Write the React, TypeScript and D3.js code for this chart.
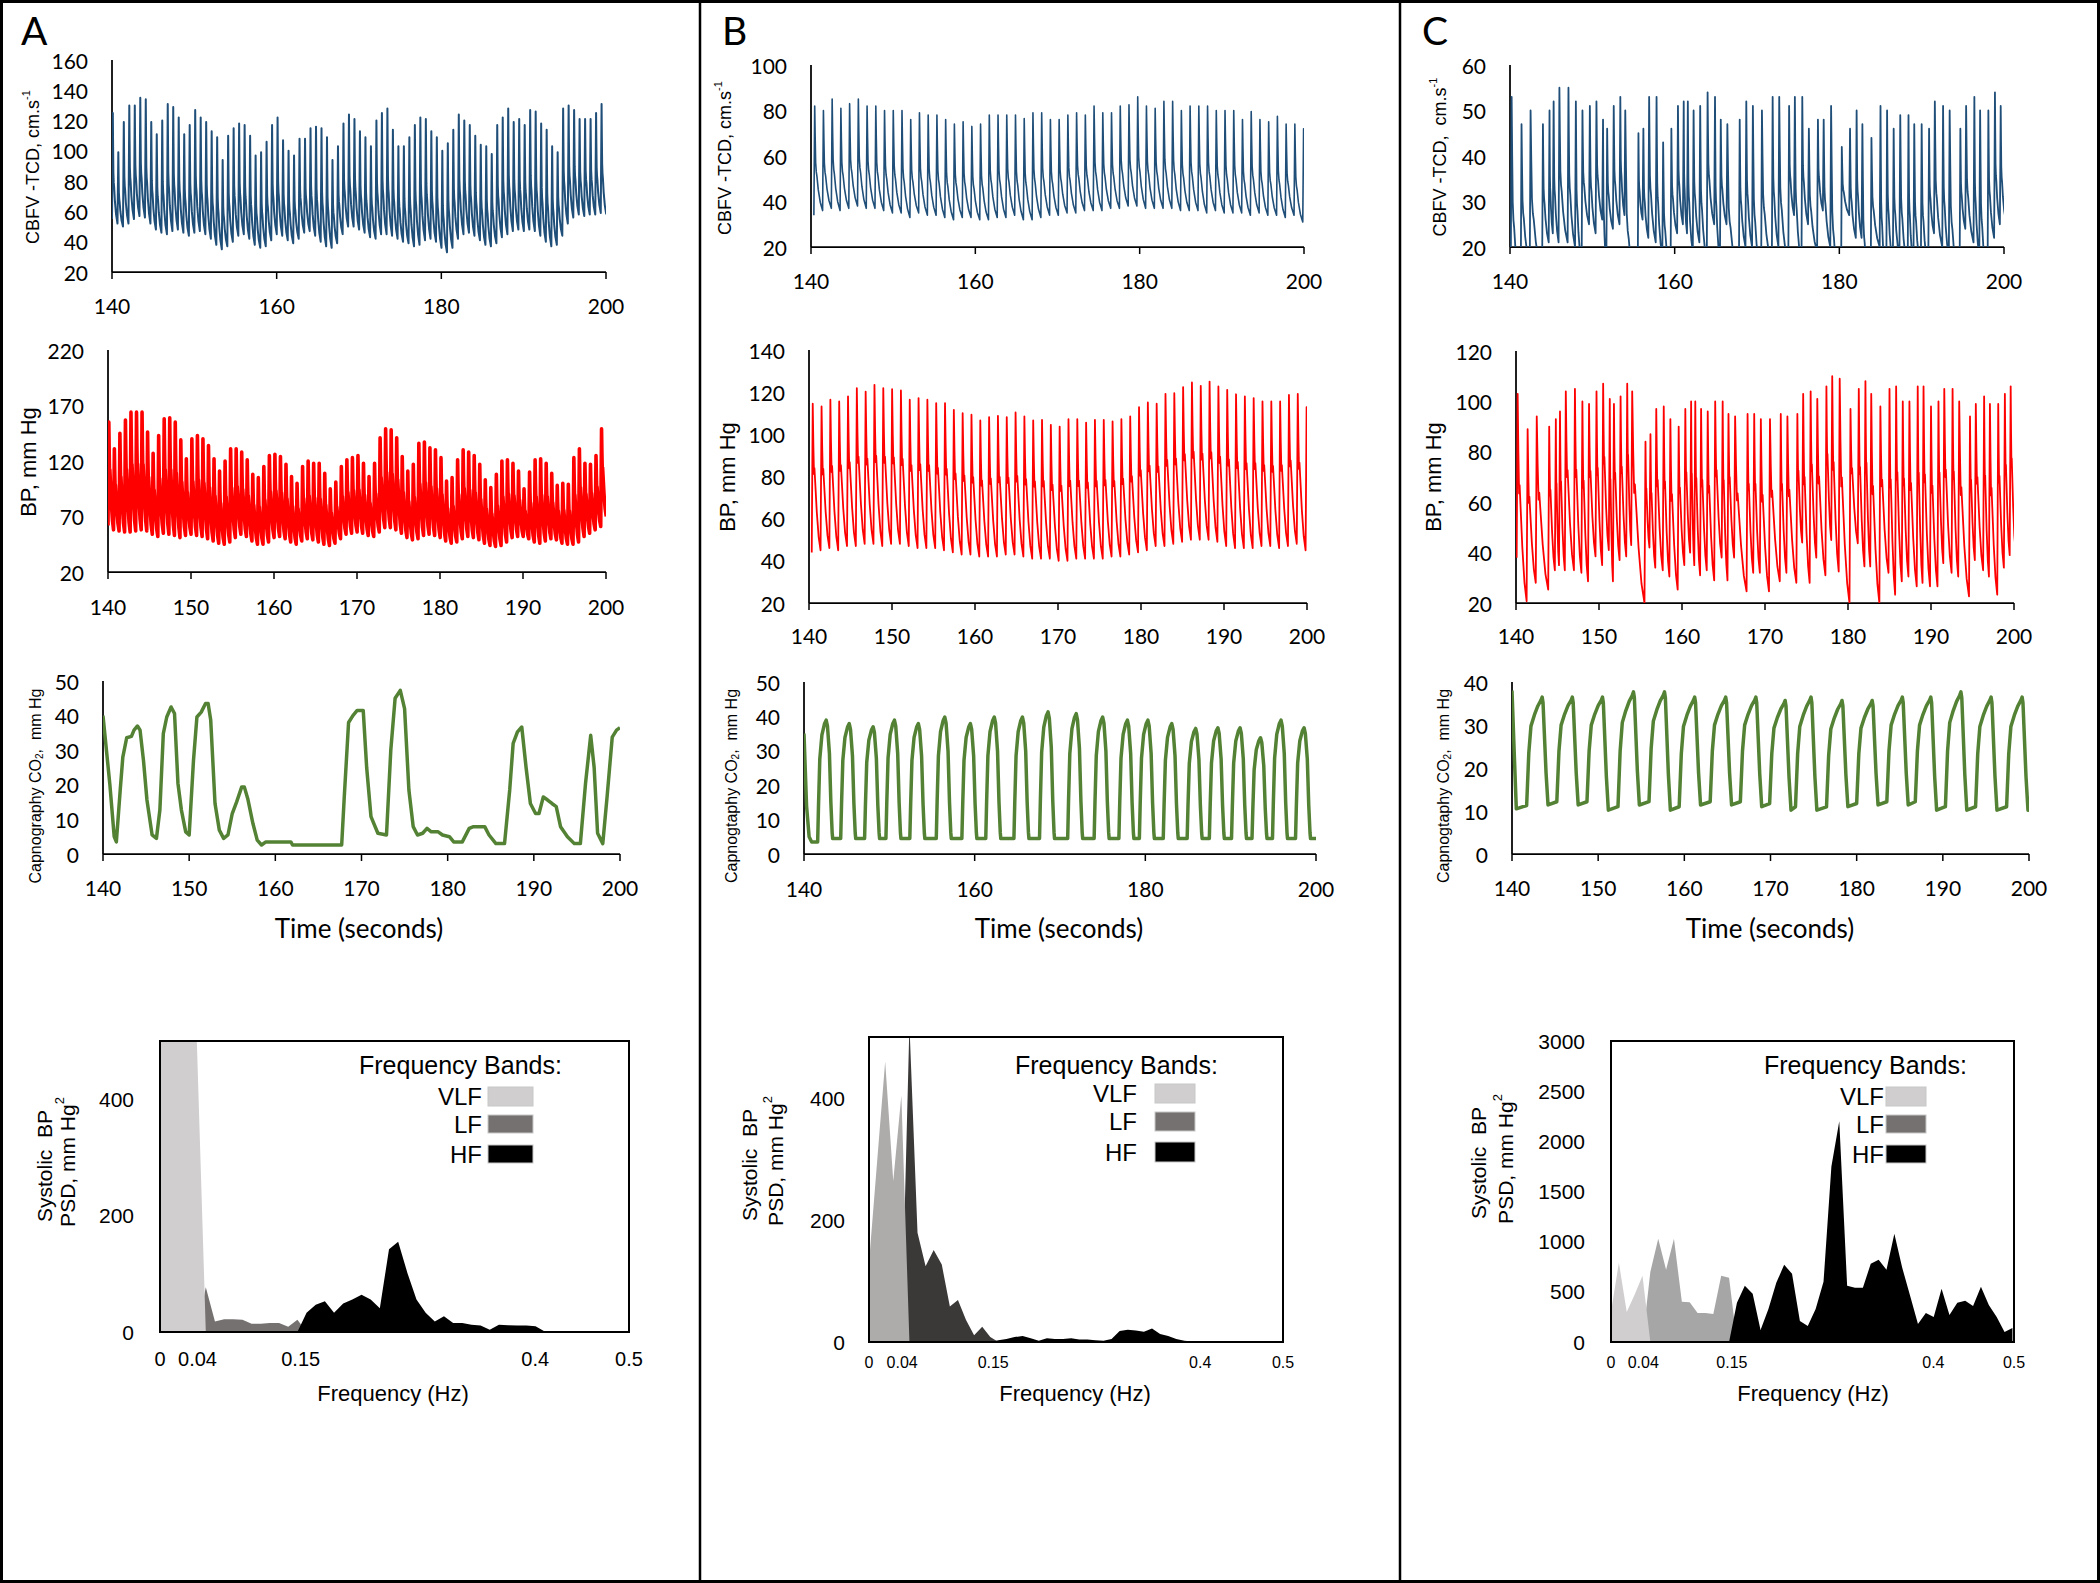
import React from 'react';
import * as d3 from 'd3';

type Pt = [number, number];

// ---------------- tick values ----------------
const timeTicksCoarse = [140, 160, 180, 200];
const timeTicksFine = [140, 150, 160, 170, 180, 190, 200];
const cbfvTicksA = [20, 40, 60, 80, 100, 120, 140, 160];
const bpTicksA = [20, 70, 120, 170, 220];
const co2TicksAB = [0, 10, 20, 30, 40, 50];
const cbfvTicksB = [20, 40, 60, 80, 100];
const bpTicksB = [20, 40, 60, 80, 100, 120, 140];
const cbfvTicksC = [20, 30, 40, 50, 60];
const bpTicksC = [20, 40, 60, 80, 100, 120];
const co2TicksC = [0, 10, 20, 30, 40];
const psdTicksAB = [0, 200, 400];
const psdTicksC = [0, 500, 1000, 1500, 2000, 2500, 3000];
const freqTickValues = [0, 0.04, 0.15, 0.4, 0.5];
const freqTickLabels = ['0', '0.04', '0.15', '0.4', '0.5'];
const bandNames = ['VLF', 'LF', 'HF'];
const bandEdges = [0.04, 0.15];
const psdBinWidth = 10 / 1024; // Hz per spectral bin

// ---------------- Panel A ----------------
const aBeatStart = 140.1;
const aBeatPeriod = 0.667;
const aCbfvPeaks = [125, 99, 119, 130, 130, 135, 134, 119, 111, 120,
  131, 129, 122, 111, 117, 127, 122, 119, 113, 109,
  94, 110, 115, 118, 117, 110, 97, 99, 106, 117,
  122, 107, 100, 97, 108, 108, 115, 116, 115, 109,
  94, 103, 118, 124, 121, 113, 109, 103, 120, 125,
  128, 114, 103, 103, 109, 117, 122, 121, 113, 109,
  100, 105, 114, 124, 120, 117, 110, 104, 103, 98,
  117, 122, 128, 119, 121, 117, 127, 126, 118, 114,
  103, 99, 128, 130, 127, 121, 121, 121, 125, 131];
const aCbfvTroughs = [55, 52, 50, 52, 55, 57, 56, 52,
  48, 46, 45, 47, 48, 46, 44,
  46, 47, 45, 42, 38, 35, 37, 40, 44, 45,
  42, 38, 36, 37, 41, 45, 44, 41, 39, 42,
  46, 47, 44, 40, 37, 36, 39, 45, 50, 50,
  48, 46, 43, 42, 45, 45, 44, 42, 40, 39,
  37, 38, 41, 42, 40, 36, 33, 36, 42, 45,
  46, 44, 41, 38, 37, 39, 43, 45, 47, 48,
  47, 48, 47, 44, 40, 37, 38, 44, 52, 56,
  58, 57, 58, 58, 59];
const aCbfvEnd = 58;
const aBpPeaks = [155, 131, 145, 157, 164, 164, 164, 146, 127, 143,
  158, 159, 155, 139, 122, 140, 143, 140, 134, 122,
  111, 120, 131, 131, 128, 121, 108, 105, 115, 125,
  126, 124, 117, 106, 100, 115, 120, 118, 118, 109,
  95, 101, 115, 121, 123, 125, 118, 106, 118, 141,
  149, 148, 141, 124, 111, 117, 136, 137, 132, 130,
  123, 102, 105, 121, 130, 128, 125, 117, 103, 96,
  108, 120, 121, 118, 111, 95, 110, 121, 122, 118,
  109, 98, 100, 99, 123, 131, 118, 117, 125, 149];
const aBpTroughs = [62, 58, 57, 56, 56, 57, 58, 57,
  54, 52, 55, 54, 53, 51, 53,
  54, 53, 52, 50, 48, 46, 45, 47, 51, 54,
  52, 48, 45, 45, 47, 51, 52, 50, 47, 45,
  48, 50, 49, 47, 45, 44, 46, 50, 54, 55,
  56, 55, 53, 52, 56, 60, 60, 58, 55, 51,
  49, 50, 53, 54, 53, 51, 48, 46, 47, 50,
  52, 51, 49, 46, 44, 43, 44, 47, 51, 52,
  52, 50, 47, 46, 48, 50, 49, 46, 45, 45,
  47, 52, 55, 58, 61];
const aBpEnd = 70;
const aCo2Times = [140, 140.8, 141.3, 141.55, 142, 142.3, 142.75, 143.3, 143.6, 144, 144.3, 144.7, 145.1, 145.7, 146.2,
  146.6, 147, 147.4, 147.9, 148.3, 148.7, 149.1, 149.6, 150, 150.5, 150.9, 151.4, 151.9, 152.2, 152.5, 153, 153.5,
  154, 154.5, 155, 155.5, 156.1, 156.4, 156.8, 157.4, 157.9, 158.4, 158.9, 161.8, 162, 167.7, 168, 168.5, 169,
  169.5, 170.2, 170.6, 171.1, 171.9, 172.9, 173.4, 173.9, 174.5, 175, 175.5, 176, 176.5, 177.1, 177.6, 178.1,
  178.9, 179.4, 180.2, 180.7, 181.7, 182.5, 183, 184.3, 184.8, 185.6, 186.6, 187.2, 187.6, 188.1, 188.6, 189.1,
  189.6, 190.2, 190.6, 191.1, 191.6, 192.1, 192.6, 193.1, 193.9, 194.7, 195.4, 196, 196.6, 197, 197.4, 198,
  198.5, 199.1, 199.6, 200];
const aCo2Values = [40, 20, 5, 3.5, 18.5, 28, 33.6, 34, 35.8, 37, 35.8, 27, 15.6, 5.5, 4.5,
  12.7, 34.8, 39.6, 42.5, 40.6, 20.4, 12.7, 6.4, 5.5, 27, 39.6, 41, 43.5, 43.5, 38.7, 14.6, 6.9,
  4.5, 5.5, 11.7, 15, 19.4, 19.4, 16, 8.8, 4, 2.6, 3.5, 3.5, 2.6, 2.6, 16.5, 38, 40,
  41.5, 41.5, 25, 10.8, 6, 5.5, 30, 45, 47.3, 42, 18.5, 7.9, 5.5, 6, 7.4, 6.4,
  6.4, 5.5, 5, 3.5, 3.5, 7.4, 7.9, 7.9, 5.5, 3, 3, 18.5, 32, 35.3, 36.7, 25,
  14.6, 11.7, 11.7, 16.5, 15.6, 14.6, 13.7, 7.9, 5, 3, 3, 20.4, 34.3, 25, 6, 3,
  16.5, 33.8, 35.8, 36.5];
const aPsd = [1100, 1600, 1300, 800, 510, 77, 18, 22, 22, 21, 14, 14, 15.5, 15.5, 9, 21,
  33, 47, 53, 33, 49, 56, 64, 56, 41, 142, 155, 102, 56, 33, 18, 27, 15.5, 15.5, 12.6, 11,
  4, 12.6, 11.5, 11, 11, 10, 1, 0.5, 0.3, 0.3, 0.3, 0.3, 0.3, 0.3, 0.3, 0.3];

// ---------------- Panel B ----------------
const bBeatStart = 140.45;
const bBeatPeriod = 1.0625;
const bCbfvPeaks = [82, 80, 85, 81, 83, 85, 82, 82, 80, 80,
  80, 76, 79, 78, 78, 76, 74, 75, 73, 74,
  78, 78, 78, 78, 76.5, 79, 79, 76, 76, 78,
  79, 78, 82, 79, 79, 82, 82.5, 86, 82, 81,
  84, 84, 80, 82, 82, 82, 80, 80, 80, 76,
  79.5, 76, 75, 77.5, 74, 74, 72];
const bCbfvTroughs = [34, 36, 37, 36, 37, 38, 37, 37, 36, 35,
  35, 33, 35, 34, 34, 33, 32, 33, 33, 32,
  32, 33, 33, 34, 32, 32, 33, 34, 34, 35,
  35, 36, 36, 36, 37, 37, 38, 38, 37, 37,
  37, 37, 36, 36, 36, 35, 36, 35, 35, 35,
  34, 35, 34, 34, 33, 34, 31];
const bCbfvEnd = 40;
const bBpPeaks = [114.5, 113.2, 116.4, 115.6, 118, 121.9, 120.3, 123.5, 121.9, 121.4,
  120.8, 116.4, 117.2, 116.4, 114.8, 114.8, 111.6, 110, 109.3, 106.6,
  108.2, 108.8, 108.2, 110.4, 108.5, 106.6, 106.9, 104.5, 103.7, 107.2,
  107.2, 105.6, 106.9, 106.9, 106.1, 107.2, 108.5, 112.9, 115.1, 114.5,
  119.2, 119.5, 122.4, 124.6, 123, 125, 122.7, 121.1, 119, 118,
  117.2, 115.6, 115.6, 115.6, 118.7, 119.2, 112.9];
const bBpTroughs = [44, 45, 46, 45, 47, 47, 48, 48, 47, 48,
  48, 47, 46, 46, 46, 45, 44, 43, 43, 42,
  42, 42, 43, 43, 42, 41, 41, 41, 40, 40,
  41, 41, 41, 41, 42, 42, 43, 44, 45, 47,
  47, 48, 49, 50, 50, 50, 49, 47, 46, 46,
  46, 47, 47, 46, 47, 48, 45];
const bBpEnd = 45;
const bCo2PeakTimes = [142.6, 145.3, 148.1, 150.6, 153.4, 156.5, 159.5, 162.3, 165.6, 168.6, 171.9,
  175.0, 177.9, 180.3, 183.1, 185.9, 188.5, 191.1, 193.5, 195.9, 198.6];
const bCo2Peaks = [38.9, 37.9, 37, 38.9, 37.9, 39.8, 37.9, 39.8, 39.8, 41.3, 40.8,
  39.8, 38.9, 38.9, 37.9, 36.5, 36.7, 36.7, 33.8, 38.9, 36.7];
const bCo2Troughs = [3.5, 4.5, 4.5, 4.5, 4.5, 4.5, 4.5, 4.5, 4.5, 4.5, 4.5,
  4.5, 4.5, 4.5, 4.5, 4.5, 4.5, 4.5, 4.5, 4.5, 4.5];
const bCo2Lead: Pt[] = [[140, 35], [140.3, 14], [140.6, 5], [140.9, 3.5]];
const bCo2Tail: Pt[] = [[200, 4.5]];
const bPsd = [130, 295, 460, 264, 404, 520, 179, 124, 151, 127, 58, 69, 36, 11, 25, 8,
  3, 5, 8, 10, 6, 2, 6, 5, 5, 6, 4, 4, 3, 2, 5, 18, 20, 19, 17, 22,
  13, 10, 5, 2, 1, 1, 0.5, 0.3, 0.3, 0.3, 0.3, 0.3, 0.3, 0.3, 0.3, 0.3];

// ---------------- Panel C ----------------
const cBeatTimes = [140.2, 141.4, 142.5, 144.0, 144.8, 145.3, 146.0, 147.1, 148.0, 148.8,
  149.7, 150.5, 151.3, 151.8, 152.6, 153.4, 154.0, 155.6, 156.2, 156.9,
  157.8, 158.6, 159.6, 160.4, 161.1, 161.6, 162.3, 163.1, 164.0, 164.9,
  165.6, 166.4, 167.9, 168.7, 169.5, 170.6, 171.9, 172.7, 173.9, 174.6,
  175.5, 176.3, 177.4, 178.1, 179.0, 180.3, 181.3, 182.1, 182.8, 183.9,
  185.0, 185.8, 186.6, 187.4, 188.4, 189.1, 190.0, 190.9, 191.6, 192.6,
  193.4, 194.7, 195.4, 196.4, 197.1, 198.1, 198.9, 199.6];
const cCbfvPeaks = [53, 47, 50, 47, 50, 52, 55, 55, 52, 50,
  51, 52, 48, 46, 51, 53, 50, 45, 46, 53,
  53, 43, 46, 51, 52, 52, 50, 51, 54, 53,
  48, 47, 48, 52, 51, 50, 53, 53, 51, 53,
  53, 46, 48, 48, 51, 42, 46, 50, 47, 44,
  51, 50, 46, 49, 49, 47, 47, 46, 52, 51,
  50, 46, 51, 53, 50, 50, 54, 51];
const cCbfvTroughs = [18, 10, 16, 14, 21, 23, 21, 21, 20, 16,
  25, 23, 26, 16, 24, 25, 27, 8, 26, 22,
  21, 18, 14, 23, 25, 23, 19, 21, 17, 25,
  17, 25, 13, 20, 20, 13, 16, 20, 16, 27,
  16, 25, 19, 28, 20, 8, 27, 22, 22, 8,
  20, 12, 16, 18, 15, 16, 15, 15, 23, 20,
  18, 11, 24, 21, 18, 12, 22, 25];
const cCbfvEnd = 26;
const cBpPeaks = [103, 89, 94, 90, 93, 96, 104, 105, 100, 99,
  104, 107, 101, 99, 102, 107, 104, 84, 87, 97,
  98, 93, 90, 97, 100, 100, 97, 96, 100, 100,
  95, 94, 95, 95, 93, 93, 95, 94, 95, 103,
  104, 101, 106, 110, 109, 97, 105, 108, 103, 98,
  105, 106, 100, 100, 106, 106, 98, 100, 105, 105,
  100, 94, 99, 102, 99, 99, 103, 106];
const cBpTroughs = [38, 20.7, 28, 25.3, 33, 35, 33, 33, 32, 28.6,
  38.5, 35, 41, 28.6, 37, 38.5, 43, 20, 42, 34,
  33, 30.5, 25.3, 35, 40, 35, 31, 33, 29, 38,
  29, 38, 24.6, 32, 32, 24.6, 28.6, 32, 28, 44,
  28, 38, 31, 45, 32.5, 20, 43.7, 34.5, 34.5, 20,
  32, 23.3, 28.6, 30.5, 26.6, 28, 26.6, 26.6, 35.8, 32,
  30.5, 22.6, 37, 33, 30.5, 23.3, 34, 39];
const cBpEnd = 41;
const cCo2PeakTimes = [143.5, 147.0, 150.5, 154.1, 157.7, 161.2, 164.8, 168.3, 171.7, 174.7,
  178.3, 181.8, 185.3, 188.6, 192.1, 195.6, 199.2];
const cCo2Peaks = [36.5, 36.5, 36.5, 37.7, 37.7, 36.5, 36.5, 36.5, 35.7, 36.5,
  35.7, 35.7, 36.5, 36.5, 37.7, 36.5, 36.5];
const cCo2Troughs = [10.5, 11.4, 11.4, 10.2, 11.4, 10.2, 11.4, 11.4, 11, 10.2,
  10.2, 11, 11.4, 11.4, 10.2, 10.2, 10.2];
const cCo2Lead: Pt[] = [[140, 38], [140.25, 24], [140.5, 10.5]];
const cCo2Tail: Pt[] = [[200, 13]];
const cPsd = [300, 790, 300, 470, 660, 700, 1030, 720, 1030, 400, 395, 290, 290, 280, 660, 640,
  390, 560, 480, 120, 330, 590, 770, 680, 210, 160, 330, 600, 1750, 2200, 560, 540, 540, 780,
  820, 720, 1080, 740, 460, 180, 290, 250, 530, 270, 390, 410, 360, 550, 370, 250, 100, 140];

// ---------------- waveform shapes (fraction of the beat / breath) ----------------
const bpBeatShape = [[0.08, 0.72], [0.16, 0.52], [0.22, 0.56], [0.32, 0.46], [0.52, 0.26], [0.76, 0.09]];
const cbfvBeatShape = [[0.06, 0.7], [0.12, 0.46], [0.2, 0.37], [0.28, 0.33], [0.45, 0.2], [0.7, 0.08]];
const co2BreathShapeB = [[-1.0, 0], [-0.9, 0.3], [-0.75, 0.68], [-0.5, 0.88], [-0.2, 0.97], [0, 1],
  [0.15, 0.95], [0.38, 0.72], [0.55, 0.3], [0.7, 0.05], [0.76, 0]];
const co2BreathShapeC = [[-1.8, 0.03], [-1.55, 0.5], [-1.3, 0.74], [-0.9, 0.84], [-0.5, 0.92],
  [-0.15, 0.97], [0, 1], [0.1, 0.95], [0.45, 0.3], [0.68, 0]];

// ---------------- helpers ----------------
const LATO = "Lato, 'Open Sans', sans-serif";
const ARIAL = "'Liberation Sans', Arial, sans-serif";

function beatTimes(start: number, period: number, n: number) {
  return d3.range(n).map((i) => start + i * period);
}

function cardiacTrace(times: number[], peaks: number[], troughs: number[], endValue: number,
  shape: number[][], rise: number): Pt[] {
  const pts: Pt[] = [];
  const n = times.length;
  for (let i = 0; i < n; i++) {
    const tp = times[i];
    const peak = peaks[i];
    pts.push([tp - rise, troughs[i]]);
    pts.push([tp, peak]);
    const period = i < n - 1 ? times[i + 1] - tp : tp - times[i - 1];
    const span = period - rise;
    const next = i < n - 1 ? troughs[i + 1] : endValue;
    for (const [f, a] of shape) pts.push([tp + f * span, next + a * (peak - next)]);
    if (i === n - 1) pts.push([tp + span, endValue]);
  }
  return pts;
}

function breathTrace(lead: Pt[], times: number[], peaks: number[], troughs: number[],
  shape: number[][], tail: Pt[]): Pt[] {
  const pts: Pt[] = [...lead];
  times.forEach((tp, i) => {
    for (const [dt, a] of shape) {
      const base = dt <= 0 ? troughs[i] : (i < times.length - 1 ? troughs[i + 1] : troughs[i]);
      pts.push([tp + dt, base + a * (peaks[i] - base)]);
    }
  });
  return pts.concat(tail);
}

type TCfg = { x0: number; x1: number; yTop: number; yBot: number; yDomain: number[]; yTicks: number[];
  xTicks: number[]; xLabelY: number };

function TimeChart({ id, cfg, points, color, width }: { id: string; cfg: TCfg; points: Pt[]; color: string; width: number }) {
  const x = d3.scaleLinear().domain([140, 200]).range([cfg.x0, cfg.x1]);
  const y = d3.scaleLinear().domain(cfg.yDomain).range([cfg.yBot, cfg.yTop]);
  const line = d3.line<Pt>().x((d) => x(d[0])).y((d) => y(d[1]));
  return (
    <g>
      <clipPath id={id}>
        <rect x={cfg.x0} y={cfg.yTop - 3} width={cfg.x1 - cfg.x0} height={cfg.yBot - cfg.yTop + 3} />
      </clipPath>
      <line x1={cfg.x0} x2={cfg.x0} y1={cfg.yTop} y2={cfg.yBot} stroke="#000" strokeWidth={1.75} />
      <line x1={cfg.x0} x2={cfg.x1} y1={cfg.yBot} y2={cfg.yBot} stroke="#000" strokeWidth={1.75} />
      {cfg.xTicks.map((t) => (
        <line key={'t' + t} x1={x(t)} x2={x(t)} y1={cfg.yBot} y2={cfg.yBot + 7} stroke="#000" strokeWidth={1.5} />
      ))}
      <path d={line(points) || ''} fill="none" stroke={color} strokeWidth={width} strokeLinejoin="round"
        clipPath={`url(#${id})`} />
      {cfg.yTicks.map((v) => (
        <text key={'y' + v} x={cfg.x0 - 24} y={y(v)} textAnchor="end" dominantBaseline="central"
          fontFamily={LATO} fontSize={21} fill="#000">{v}</text>
      ))}
      {cfg.xTicks.map((t) => (
        <text key={'x' + t} x={x(t)} y={cfg.xLabelY} textAnchor="middle" dominantBaseline="central"
          fontFamily={LATO} fontSize={21} fill="#000">{t}</text>
      ))}
    </g>
  );
}

type PCfg = { x0: number; x1: number; yTop: number; yBot: number; yMax: number; yTicks: number[];
  yLabelX: number; xLabelY: number; xLabelSize: number };

function PsdChart({ id, cfg, values, fills }: { id: string; cfg: PCfg; values: number[]; fills: string[] }) {
  const x = d3.scaleLinear().domain([0, 0.5]).range([cfg.x0, cfg.x1]);
  const y = d3.scaleLinear().domain([0, cfg.yMax]).range([cfg.yBot, cfg.yTop]);
  const freqs = values.map((_, k) => k * psdBinWidth);
  const bandOf = (f: number) => (f <= bandEdges[0] ? 0 : f <= bandEdges[1] ? 1 : 2);
  const areaFor = (band: number) =>
    d3.area<number>()
      .x((_, k) => x(freqs[k]))
      .y0(y(0))
      .y1((v, k) => y(bandOf(freqs[k]) === band ? v : 0))(values) || '';
  return (
    <g>
      <clipPath id={id}>
        <rect x={cfg.x0} y={cfg.yTop} width={cfg.x1 - cfg.x0} height={cfg.yBot - cfg.yTop} />
      </clipPath>
      <g clipPath={`url(#${id})`}>
        {[1, 2, 0].map((b) => (
          <path key={b} d={areaFor(b)} fill={fills[b]} stroke="none" />
        ))}
      </g>
      <rect x={cfg.x0} y={cfg.yTop} width={cfg.x1 - cfg.x0} height={cfg.yBot - cfg.yTop} fill="none"
        stroke="#000" strokeWidth={2} />
      {cfg.yTicks.map((v) => (
        <text key={'y' + v} x={cfg.yLabelX} y={y(v)} textAnchor="end" dominantBaseline="central"
          fontFamily={ARIAL} fontSize={21} fill="#000">{v}</text>
      ))}
      {freqTickValues.map((f, i) => (
        <text key={'f' + i} x={x(f)} y={cfg.xLabelY} textAnchor="middle" dominantBaseline="central"
          fontFamily={ARIAL} fontSize={cfg.xLabelSize} fill="#000">{freqTickLabels[i]}</text>
      ))}
    </g>
  );
}

const legendSwatch = ['#d0cece', '#767171', '#000000'];

function Legend({ titleX, titleY, swX0, swX1, rows, labelRight }: { titleX: number; titleY: number; swX0: number; swX1: number; rows: number[][]; labelRight: number }) {
  return (
    <g>
      <text x={titleX} y={titleY} dominantBaseline="central" fontFamily={ARIAL} fontSize={25} fill="#000">Frequency Bands:</text>
      {bandNames.map((name, i) => (
        <g key={name}>
          <text x={labelRight} y={(rows[i][0] + rows[i][1]) / 2} textAnchor="end" dominantBaseline="central"
            fontFamily={ARIAL} fontSize={24} fill="#000">{name}</text>
          <rect x={swX0} y={rows[i][0]} width={swX1 - swX0} height={rows[i][1] - rows[i][0]} fill={legendSwatch[i]}
            stroke="#c8c8c8" strokeWidth={1} />
        </g>
      ))}
    </g>
  );
}

function RotTitle({ cx, cy, size, children }: { cx: number; cy: number; size: number; children: any }) {
  return (
    <text transform={`translate(${cx},${cy}) rotate(-90)`} textAnchor="middle" dominantBaseline="central"
      fontFamily={ARIAL} fontSize={size} fill="#000" style={{ whiteSpace: 'pre' }}>{children}</text>
  );
}

function CbfvTitle({ cx, cy, text }: { cx: number; cy: number; text: string }) {
  return (
    <RotTitle cx={cx} cy={cy} size={18}>{text}<tspan dy={-7} fontSize={11}>-1</tspan></RotTitle>
  );
}

function Co2Title({ cx, cy, word }: { cx: number; cy: number; word: string }) {
  return (
    <RotTitle cx={cx} cy={cy} size={16}>{word} CO<tspan dy={4} fontSize={10}>2</tspan><tspan dy={-4}>,  mm Hg</tspan></RotTitle>
  );
}

function PsdTitle({ x1, x2, cy }: { x1: number; x2: number; cy: number }) {
  return (
    <g>
      <RotTitle cx={x1} cy={cy} size={21}>Systolic  BP</RotTitle>
      <RotTitle cx={x2} cy={cy - 4} size={21}>PSD, mm Hg<tspan dy={-8} fontSize={13}>2</tspan></RotTitle>
    </g>
  );
}

// ---------------- layout ----------------
const cfgA1: TCfg = { x0: 112, x1: 606, yTop: 60, yBot: 272, yDomain: [20, 160], yTicks: cbfvTicksA, xTicks: timeTicksCoarse, xLabelY: 305 };
const cfgA2: TCfg = { x0: 108, x1: 606, yTop: 350, yBot: 572, yDomain: [20, 220], yTicks: bpTicksA, xTicks: timeTicksFine, xLabelY: 606 };
const cfgA3: TCfg = { x0: 103, x1: 620, yTop: 681, yBot: 854, yDomain: [0, 50], yTicks: co2TicksAB, xTicks: timeTicksFine, xLabelY: 887 };
const cfgB1: TCfg = { x0: 811, x1: 1304, yTop: 65, yBot: 247, yDomain: [20, 100], yTicks: cbfvTicksB, xTicks: timeTicksCoarse, xLabelY: 280 };
const cfgB2: TCfg = { x0: 809, x1: 1307, yTop: 350, yBot: 603, yDomain: [20, 140], yTicks: bpTicksB, xTicks: timeTicksFine, xLabelY: 635 };
const cfgB3: TCfg = { x0: 804, x1: 1316, yTop: 682, yBot: 854, yDomain: [0, 50], yTicks: co2TicksAB, xTicks: timeTicksCoarse, xLabelY: 888 };
const cfgC1: TCfg = { x0: 1510, x1: 2004, yTop: 65, yBot: 247, yDomain: [20, 60], yTicks: cbfvTicksC, xTicks: timeTicksCoarse, xLabelY: 280 };
const cfgC2: TCfg = { x0: 1516, x1: 2014, yTop: 351, yBot: 603, yDomain: [20, 120], yTicks: bpTicksC, xTicks: timeTicksFine, xLabelY: 635 };
const cfgC3: TCfg = { x0: 1512, x1: 2029, yTop: 682, yBot: 854, yDomain: [0, 40], yTicks: co2TicksC, xTicks: timeTicksFine, xLabelY: 887 };

const cfgA4: PCfg = { x0: 160, x1: 629, yTop: 1041, yBot: 1332, yMax: 500, yTicks: psdTicksAB, yLabelX: 134, xLabelY: 1359, xLabelSize: 20 };
const cfgB4: PCfg = { x0: 869, x1: 1283, yTop: 1037, yBot: 1342, yMax: 500, yTicks: psdTicksAB, yLabelX: 845, xLabelY: 1362, xLabelSize: 16 };
const cfgC4: PCfg = { x0: 1611, x1: 2014, yTop: 1041, yBot: 1342, yMax: 3000, yTicks: psdTicksC, yLabelX: 1585, xLabelY: 1362, xLabelSize: 16 };

export default function App() {
  const aTimes = beatTimes(aBeatStart, aBeatPeriod, aCbfvPeaks.length);
  const bTimes = beatTimes(bBeatStart, bBeatPeriod, bCbfvPeaks.length);

  const aCbfv = cardiacTrace(aTimes, aCbfvPeaks, aCbfvTroughs, aCbfvEnd, cbfvBeatShape, 0.1);
  const aBp = cardiacTrace(aTimes, aBpPeaks, aBpTroughs, aBpEnd, bpBeatShape, 0.1);
  const aCo2: Pt[] = aCo2Times.map((t, i) => [t, aCo2Values[i]]);
  const bCbfv = cardiacTrace(bTimes, bCbfvPeaks, bCbfvTroughs, bCbfvEnd, cbfvBeatShape, 0.1);
  const bBp = cardiacTrace(bTimes, bBpPeaks, bBpTroughs, bBpEnd, bpBeatShape, 0.12);
  const bCo2 = breathTrace(bCo2Lead, bCo2PeakTimes, bCo2Peaks, bCo2Troughs, co2BreathShapeB, bCo2Tail);
  const cCbfv = cardiacTrace(cBeatTimes, cCbfvPeaks, cCbfvTroughs, cCbfvEnd, cbfvBeatShape, 0.1);
  const cBp = cardiacTrace(cBeatTimes, cBpPeaks, cBpTroughs, cBpEnd, bpBeatShape, 0.12);
  const cCo2 = breathTrace(cCo2Lead, cCo2PeakTimes, cCo2Peaks, cCo2Troughs, co2BreathShapeC, cCo2Tail);

  const blue = '#1f4e79';
  const red = '#ff0000';
  const green = '#548235';

  return (
    <svg width={2100} height={1583} viewBox="0 0 2100 1583"
      style={{ position: 'absolute', left: 0, top: 0, display: 'block' }}>
      <rect x={0} y={0} width={2100} height={1583} fill="#fff" />

      {/* panel letters */}
      <text x={21} y={45} fontFamily={LATO} fontSize={39} fill="#000">A</text>
      <text x={722} y={45} fontFamily={LATO} fontSize={39} fill="#000">B</text>
      <text x={1422} y={45} fontFamily={LATO} fontSize={39} fill="#000">C</text>

      {/* Panel A */}
      <TimeChart id="cA1" cfg={cfgA1} points={aCbfv} color={blue} width={2} />
      <TimeChart id="cA2" cfg={cfgA2} points={aBp} color={red} width={3.6} />
      <TimeChart id="cA3" cfg={cfgA3} points={aCo2} color={green} width={3.5} />
      <CbfvTitle cx={33} cy={167} text="CBFV -TCD, cm.s" />
      <RotTitle cx={28} cy={462} size={22}>BP, mm Hg</RotTitle>
      <Co2Title cx={35} cy={786} word="Capnography" />
      <text x={359} y={928} textAnchor="middle" dominantBaseline="central" fontFamily={LATO} fontSize={26} fill="#000">Time (seconds)</text>
      <PsdChart id="cA4" cfg={cfgA4} values={aPsd} fills={['#d0cece', '#767171', '#000000']} />
      <PsdTitle x1={44} x2={67} cy={1166} />
      <text x={393} y={1393} textAnchor="middle" dominantBaseline="central" fontFamily={ARIAL} fontSize={22} fill="#000">Frequency (Hz)</text>
      <Legend titleX={359} titleY={1065} swX0={488} swX1={533} labelRight={482}
        rows={[[1087, 1106], [1115, 1133], [1145, 1163]]} />

      {/* Panel B */}
      <TimeChart id="cB1" cfg={cfgB1} points={bCbfv} color={blue} width={1.6} />
      <TimeChart id="cB2" cfg={cfgB2} points={bBp} color={red} width={1.8} />
      <TimeChart id="cB3" cfg={cfgB3} points={bCo2} color={green} width={3.5} />
      <CbfvTitle cx={725} cy={158} text="CBFV -TCD, cm.s" />
      <RotTitle cx={727} cy={477} size={22}>BP, mm Hg</RotTitle>
      <Co2Title cx={731} cy={786} word="Capnogtaphy" />
      <text x={1059} y={928} textAnchor="middle" dominantBaseline="central" fontFamily={LATO} fontSize={26} fill="#000">Time (seconds)</text>
      <PsdChart id="cB4" cfg={cfgB4} values={bPsd} fills={['#aeabab', '#3b3838', '#000000']} />
      <PsdTitle x1={749} x2={775} cy={1165} />
      <text x={1075} y={1393} textAnchor="middle" dominantBaseline="central" fontFamily={ARIAL} fontSize={22} fill="#000">Frequency (Hz)</text>
      <Legend titleX={1015} titleY={1065} swX0={1155} swX1={1195} labelRight={1137}
        rows={[[1084, 1103], [1112, 1131], [1142, 1162]]} />

      {/* Panel C */}
      <TimeChart id="cC1" cfg={cfgC1} points={cCbfv} color={blue} width={1.8} />
      <TimeChart id="cC2" cfg={cfgC2} points={cBp} color={red} width={1.8} />
      <TimeChart id="cC3" cfg={cfgC3} points={cCo2} color={green} width={3.5} />
      <CbfvTitle cx={1440} cy={157} text="CBFV -TCD,  cm.s" />
      <RotTitle cx={1433} cy={477} size={22}>BP, mm Hg</RotTitle>
      <Co2Title cx={1443} cy={786} word="Capnogtaphy" />
      <text x={1770} y={928} textAnchor="middle" dominantBaseline="central" fontFamily={LATO} fontSize={26} fill="#000">Time (seconds)</text>
      <PsdChart id="cC4" cfg={cfgC4} values={cPsd} fills={['#d0cece', '#a6a6a6', '#000000']} />
      <PsdTitle x1={1478} x2={1505} cy={1163} />
      <text x={1813} y={1393} textAnchor="middle" dominantBaseline="central" fontFamily={ARIAL} fontSize={22} fill="#000">Frequency (Hz)</text>
      <Legend titleX={1764} titleY={1065} swX0={1886} swX1={1926} labelRight={1884}
        rows={[[1087, 1106], [1115, 1133], [1145, 1163]]} />

      {/* panel frames */}
      <rect x={1.5} y={1.5} width={2097} height={1580} fill="none" stroke="#000" strokeWidth={3} />
      <line x1={700} x2={700} y1={0} y2={1583} stroke="#000" strokeWidth={2.5} />
      <line x1={1400} x2={1400} y1={0} y2={1583} stroke="#000" strokeWidth={2.5} />
    </svg>
  );
}
